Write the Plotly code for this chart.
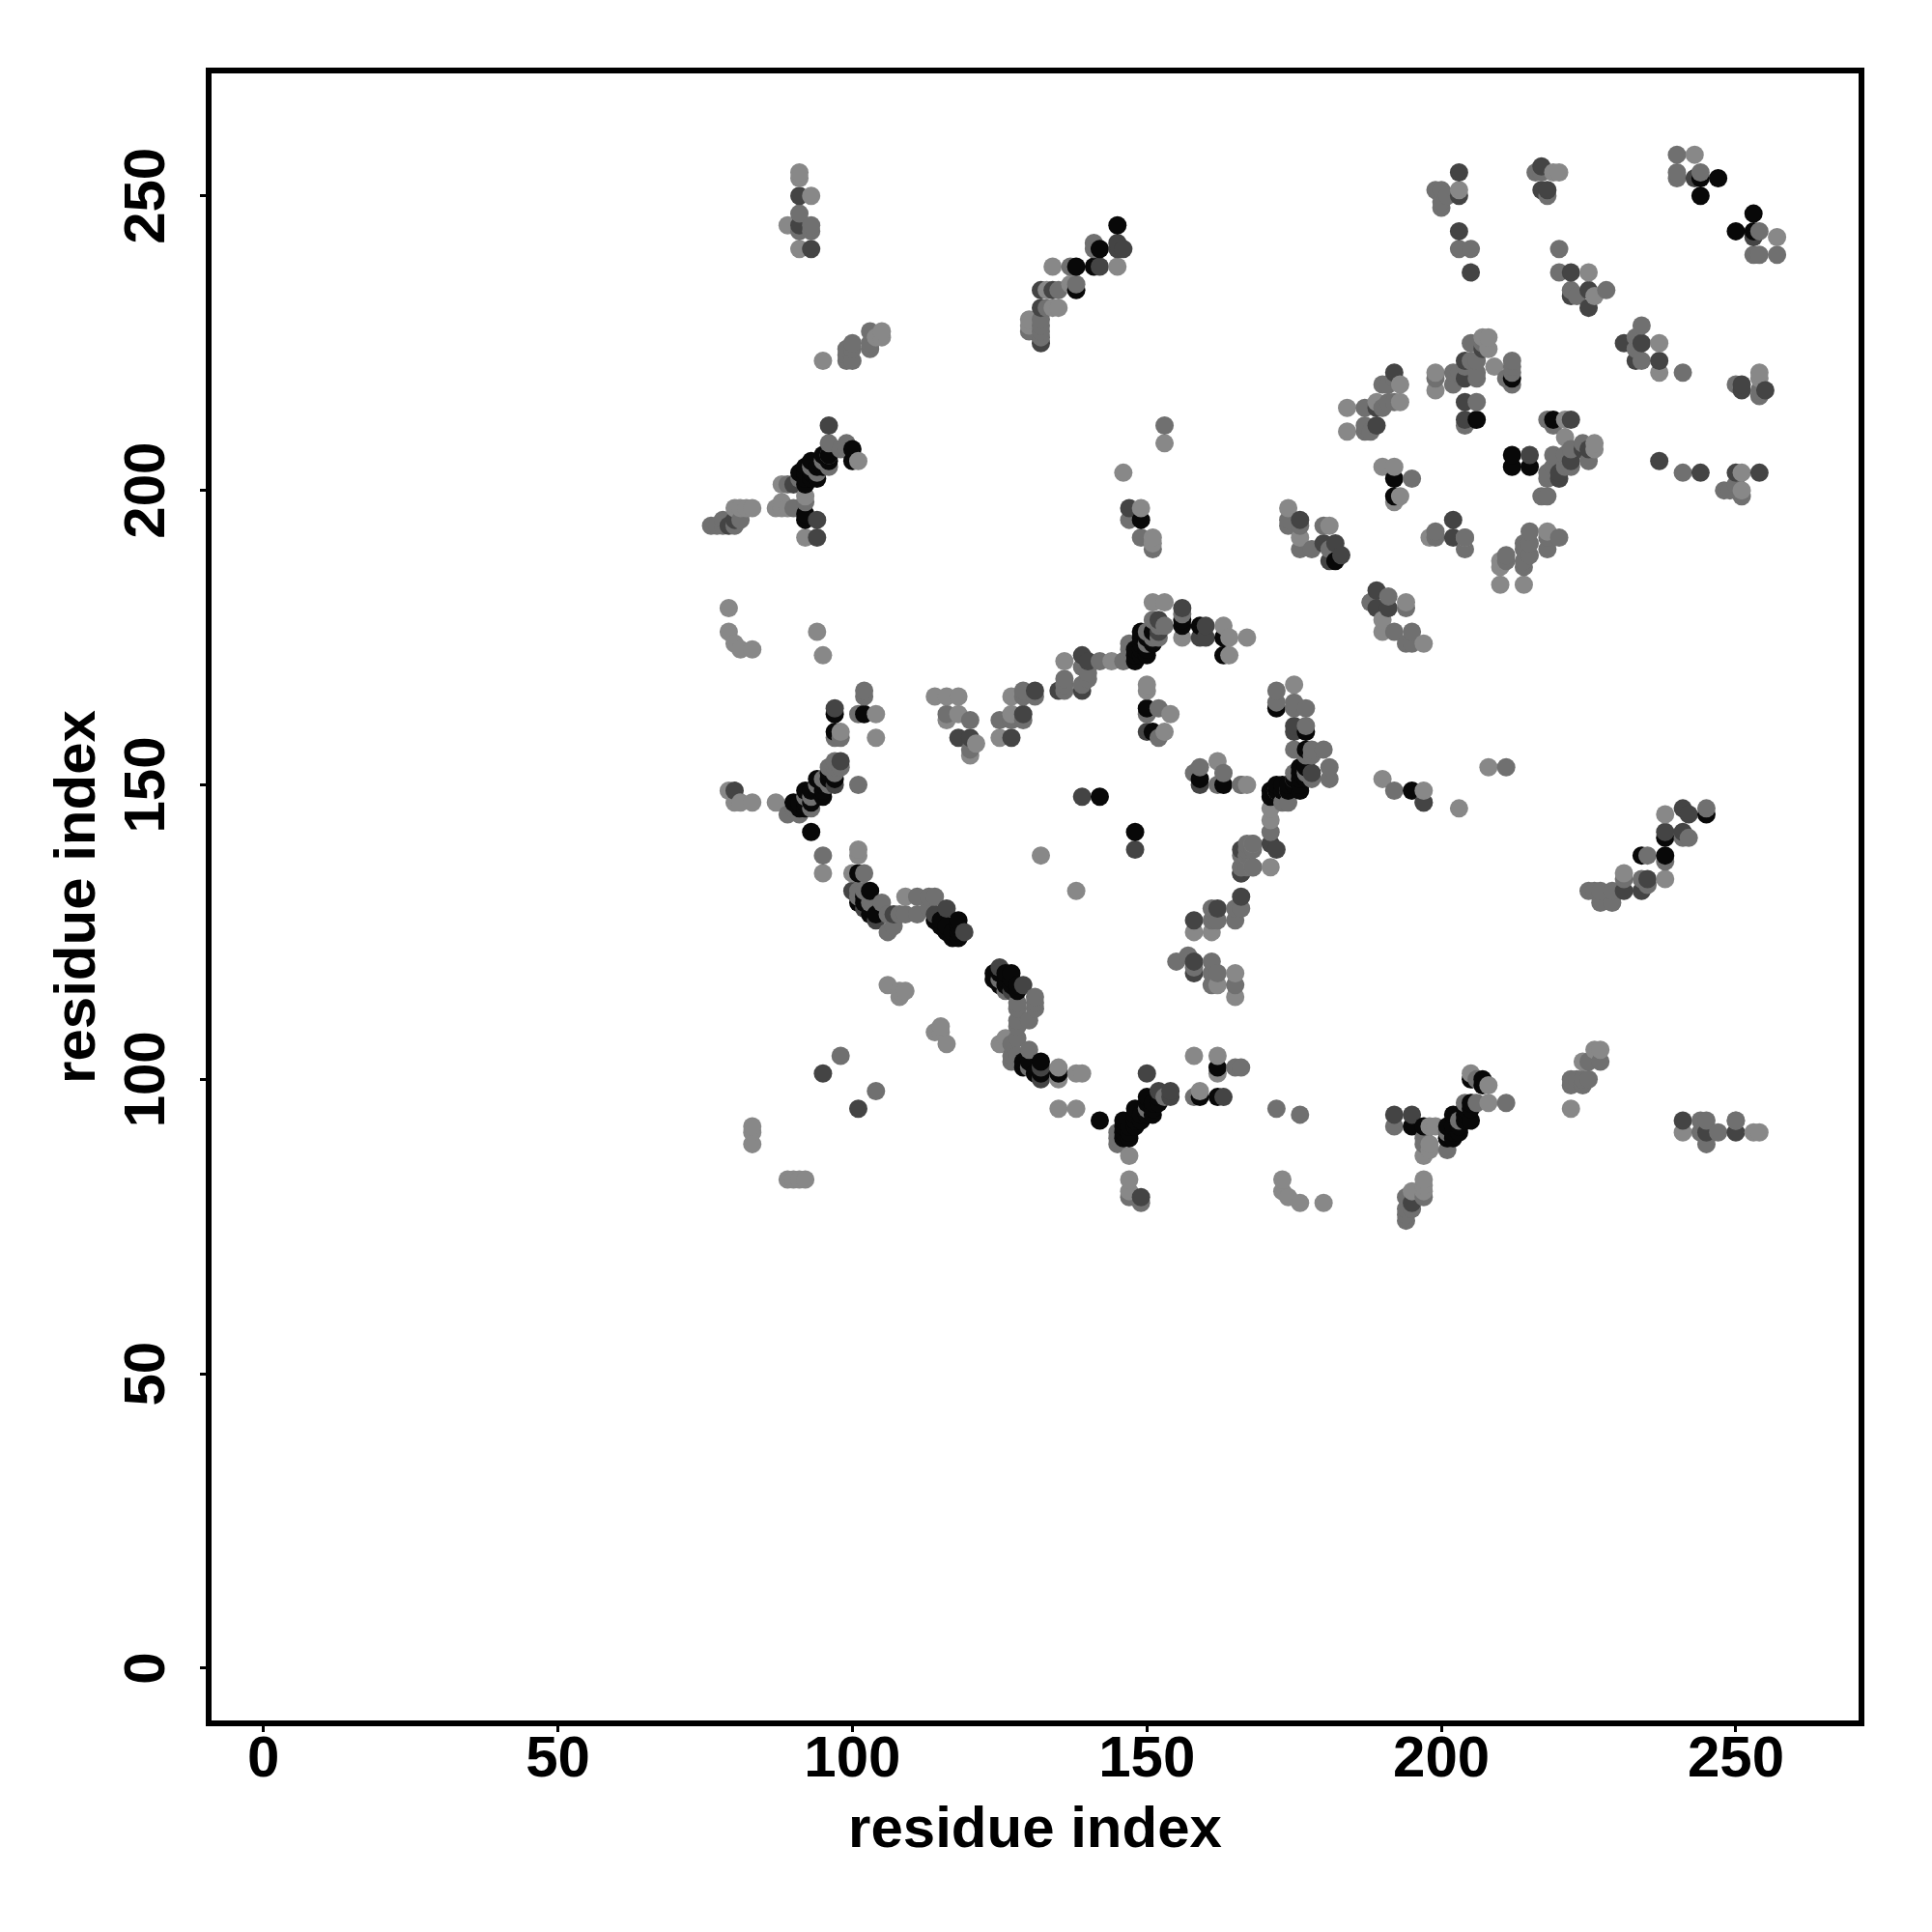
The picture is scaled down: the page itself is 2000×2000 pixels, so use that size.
import numpy as np
import plotly.graph_objects as go

tick_values = [0, 50, 100, 150, 200, 250]
axis_label = "residue index"

black_contacts = [
(145,245),(142,241),(138,238),(141,238),(138,234),(100,207),(100,205),(96,205),(93,205),(91,203),(92,202),(94,202),(92,201),(92,196),(92,195),(149,195),
(244,253),(247,253),(244,250),(253,247),(250,244),(253,244),(212,219),(206,212),(192,202),(192,199),(212,206),(212,204),(215,204),(219,212),(182,188),
(156,178),(156,177),(149,176),(149,174),(149,172),(148,171),(150,172),(148,173),(159,177),(163,175),(163,172),(102,162),(97,162),(97,159),(94,151),(95,148),(92,149),(90,147),(92,146),(93,142),
(101,135),(103,132),(115,126),(118,127),(117,124),(118,124),(116,125),(142,148),(148,142),(159,151),(163,150),(150,163),(151,159),
(124,118),(127,118),(124,117),(126,116),(129,102),(132,103),(135,101),(142,93),(146,93),(146,91),(147,90),(148,95),(148,92),(150,97),(151,94),(159,97),(162,97),(162,102),
(195,92),(197,92),(201,92),(202,94),(202,91),(203,91),(205,96),(205,93),(205,100),(207,100),(207,99),
(172,163),(177,159),(177,156),(176,152),(175,151),(172,150),(174,150),(176,149),(171,148),(195,149),(245,145),(238,141),(234,138),(238,138),
(91,146),(91,147),(92,147),(93,147),(93,149),(94,149),(95,150),(95,149),(96,151),(96,152),(97,151),
(171,149),(172,149),(173,149),(173,150),(174,149),(175,150),(176,150),(176,151),(177,151),(177,153),(176,153),
(146,92),(147,92),(147,91),(148,93),(148,94),(149,93),(149,94),(150,94),(150,96),(151,95),(151,96),(152,96),(152,97),(146,90),
(201,90),(202,90),(202,92),(203,92),(204,93),(204,94),(204,95),(205,95),
(101,130),(102,130),(102,131),(103,129),(103,128),(104,128),
(114,127),(115,127),(116,126),(117,125),(118,126),(118,125),
(125,116),(125,118),(126,117),(126,118),(127,116),(127,117),(128,116),(128,115),
(92,203),(93,203),(93,202),(92,204),(94,204),(95,204),(95,206),(96,206),
(150,173),(150,175),(151,176),(151,174),(149,173),(149,175),(148,172),
(129,103),(130,103),(131,101),(132,101),
]
dark_contacts = [
(91,250),(91,245),(93,241),(146,241),(145,242),(145,241),(142,238),(134,234),(132,234),(132,231),(132,225),(96,211),(90,201),(94,195),(94,192),(80,195),(79,194),(147,197),
(203,254),(203,250),(217,255),(217,251),(218,251),(243,253),(253,243),(203,244),(205,237),(222,237),(222,233),(225,234),(225,231),(234,225),(231,225),(233,222),(237,222),
(251,218),(251,217),(255,217),(207,224),(204,222),(204,219),(204,215),(204,212),(192,220),(189,214),(189,211),(215,206),(222,212),(225,207),(224,207),(222,205),(220,203),(220,202),(237,205),(244,203),(250,203),(254,203),
(176,195),(180,191),(182,191),(183,189),(181,188),(202,195),(202,192),
(156,180),(152,178),(152,176),(160,177),(159,175),(160,175),(140,171),(139,172),(139,166),(135,166),(131,166),(129,162),(127,158),(118,158),(120,158),(97,163),(98,154),(97,150),(80,149),
(100,132),(102,129),(104,127),(107,128),(114,128),(116,129),(119,125),(139,148),(148,139),(159,150),(150,159),(166,139),(166,135),(166,131),(162,129),(158,127),(158,120),(158,118),
(125,119),(129,116),(127,115),(132,102),(132,100),(95,101),(101,95),(150,101),(152,98),(154,98),(154,97),(149,80),(163,97),(192,94),(195,94),(201,90),(195,79),(241,93),(245,91),(250,91),
(189,183),(189,180),(191,180),(175,160),(175,159),(178,152),(171,140),(172,139),(166,135),(197,147),(241,146),(242,145),(238,142),(241,142),(235,134),(234,132),(231,132),
]
mid_contacts = [
(91,247),(93,245),(93,244),(91,244),(141,242),(141,241),(137,238),(138,235),(135,234),(133,231),(132,229),(132,228),(132,227),(132,226),(130,227),(99,224),(100,225),(100,224),(99,223),(103,227),(103,224),(103,225),(99,222),(100,222),
(96,208),(99,208),(99,207),(98,207),(95,205),(96,206),(94,203),(96,204),(93,204),(91,202),(92,201),(89,201),(92,198),(90,197),(81,195),(80,194),(78,195),(78,194),(77,194),(76,194),(153,211),(147,195),(149,192),(151,190),
(199,251),(200,251),(201,250),(200,249),(200,248),(216,254),(217,254),(218,250),(244,254),(240,257),(240,254),(240,253),(254,244),(253,240),(254,240),(257,240),
(203,241),(205,241),(220,241),(220,237),(222,234),(223,233),(228,234),(234,228),(233,226),(233,224),(234,222),(250,218),(254,217),(254,216),(241,220),
(207,225),(205,225),(205,222),(206,222),(204,221),(202,220),(203,220),(206,219),(199,219),(202,218),(206,220),(212,222),(212,221),(212,220),(211,219),(212,218),(206,215),(204,211),
(190,218),(191,218),(192,219),(191,215),(192,215),(187,214),(190,214),(187,211),(187,210),(188,210),(195,202),
(218,212),(219,211),(224,208),(222,207),(219,206),(221,206),(225,205),(219,204),(218,203),(218,202),(221,204),(222,204),(217,199),(218,199),
(241,203),(248,200),(249,200),(250,201),(251,199),(174,195),(174,194),(176,194),(176,190),(178,190),(180,194),(181,190),(199,193),(199,192),(204,192),(204,190),
(215,193),(218,192),(220,192),(214,191),(215,191),(218,190),(214,190),(215,189),(211,189),(211,188),(214,188),(214,187),
(156,179),(151,178),(152,177),(153,177),(152,175),(150,176),(150,174),(147,174),(147,173),(151,175),(146,171),(142,171),(139,170),(136,168),(140,169),(140,168),(139,167),(136,167),(136,166),
(129,166),(131,165),(129,165),(127,161),(129,161),(125,161),(116,162),(120,161),(120,156),(102,166),(102,165),(101,162),(97,158),(98,158),(97,154),(97,153),(98,153),(97,152),(96,153),(101,150),(95,151),(94,150),(96,150),(92,148),(93,148),(90,146),(93,146),(91,145),(89,145),(166,150),
(95,138),(102,135),(101,132),(102,132),(101,131),(103,130),(105,130),(106,128),(108,128),(109,128),(111,128),(113,129),(113,131),(114,131),(111,131),(106,125),(107,126),
(159,153),(158,152),(163,152),(162,150),(152,163),(150,162),(152,158),(166,138),(167,138),(166,136),(168,136),(165,129),(166,129),(161,129),(161,127),(162,127),(165,127),
(155,120),(157,121),(158,119),(161,120),(161,118),(162,118),(161,116),(165,116),
(125,117),(126,115),(131,114),(131,113),(128,113),(131,112),(128,112),(128,110),(130,110),(128,109),(128,107),(130,105),(127,106),(127,104),(128,104),(127,103),(130,102),
(98,104),(104,98),(145,91),(145,90),(145,89),(150,95),(153,97),(149,79),(147,80),(158,97),(166,102),(165,102),
(172,95),(176,94),(197,90),(197,89),(201,91),(201,88),(203,93),(204,96),(206,96),(211,96),(206,100),(222,100),(222,99),(223,100),(224,100),(225,100),(224,99),(225,103),(227,103),(194,80),(194,78),(195,78),(194,77),(194,76),(197,80),(192,92),
(244,93),(245,93),(244,91),(245,89),(247,91),(250,93),
(188,181),(191,182),(194,180),(192,176),(195,176),(194,174),(195,174),
(172,166),(172,164),(175,164),(175,163),(177,163),(177,160),(175,156),(178,156),(180,156),(177,155),(178,155),(181,153),(181,151),(177,152),(175,152),(178,151),(175,151),(172,149),(174,149),(174,147),(173,147),
(171,142),(168,140),(167,140),(167,139),(168,139),(166,136),(167,136),(168,136),(192,149),(197,147),(211,153),
(245,146),(241,141),(242,141),(235,138),(238,137),(231,134),(234,134),(235,133),(225,132),(226,132),(227,132),(229,132),(227,130),(229,130),
]
light_contacts = [
(91,254),(91,253),(93,250),(89,245),(91,241),(134,238),(145,238),(137,235),(133,234),(134,231),(135,231),(130,229),(130,228),(95,222),(105,227),(104,226),(105,226),
(101,205),(88,201),(92,199),(87,197),(88,197),(88,198),(89,197),(92,192),(82,197),(83,197),(80,197),(81,197),(146,203),(153,208),(149,197),(151,192),(151,191),
(203,251),(219,254),(220,254),(243,257),(257,243),(225,237),(226,233),(237,225),(237,220),(254,220),(254,219),
(208,226),(207,226),(208,224),(209,221),(199,220),(199,217),(190,204),(192,204),(193,199),(192,198),(193,218),(193,215),(189,215),(184,214),(184,210),
(221,212),(221,209),(226,208),(226,207),(251,203),(251,200),(174,197),(176,192),(181,194),(198,192),(204,192),(218,193),(210,188),(210,187),(210,184),(214,184),
(151,181),(153,181),(156,175),(163,177),(164,175),(167,175),(144,171),(136,171),(127,165),(127,162),(125,158),(118,165),(116,165),(114,165),(116,161),(118,162),(121,157),(120,155),
(79,180),(79,176),(80,174),(81,173),(83,173),(94,176),(95,172),(104,162),(104,158),(98,159),(87,147),(79,149),(80,147),(81,147),(83,147),
(95,135),(101,139),(101,138),(100,135),(109,131),(132,138),(138,132),(162,154),(166,150),(167,150),(150,167),(150,166),(154,162),(153,159),(168,140),(167,138),(168,136),(164,172),(158,125),(161,125),
(165,118),(165,114),(162,116),(106,116),(108,115),(109,115),(108,114),(115,109),(114,108),(115,108),(116,106),(125,106),(126,107),
(83,92),(83,91),(83,89),(89,83),(90,83),(91,83),(92,83),(135,102),(135,100),(138,101),(139,101),(135,95),(138,95),(147,87),(147,83),(147,81),(158,104),(162,104),(159,98),(162,101),
(173,83),(173,81),(174,80),(176,79),(180,79),(198,92),(199,92),(197,87),(198,89),(198,88),(208,96),(208,99),(205,101),(222,95),(224,103),(226,105),(227,105),
(197,83),(197,82),(197,81),(195,81),(241,91),(250,93),(253,91),(254,91),
(188,181),(194,181),(190,178),(190,176),(197,174),(175,167),(190,151),(197,149),(203,146),(208,153),(238,145),(238,134),(231,135),(171,146),(171,144),(171,136),
]

levels = [136, 112, 68, 8]
groups = [light_contacts, mid_contacts, dark_contacts, black_contacts]
xs, ys, gs = [], [], []
for g, lev in zip(groups, levels):
    for a, b in g:
        xs.append(a); ys.append(b); gs.append(lev)
xs, ys, gs = np.array(xs), np.array(ys), np.array(gs)
order = np.lexsort((ys, xs))
colors = [f"rgb({v},{v},{v})" for v in gs[order]]

fig = go.Figure(go.Scatter(x=xs[order], y=ys[order], mode="markers",
    marker=dict(size=19, color=colors, line=dict(width=0)), showlegend=False))

font = dict(family="Liberation Sans", size=60, color="black", weight="bold")
axis = dict(tickmode="array", tickvals=tick_values, ticktext=[str(v) for v in tick_values],
    ticks="outside", ticklen=6, tickwidth=3, tickcolor="black",
    showline=True, linewidth=6, linecolor="black", mirror=True,
    showgrid=False, zeroline=False, tickfont=font)
fig.update_layout(width=2000, height=2000, paper_bgcolor="white", plot_bgcolor="white",
    margin=dict(l=211.3, r=83.7, t=67.7, b=227.3, autoexpand=False),
    xaxis=dict(axis, range=[-8.81, 270.84], ticklabelstandoff=-26,
               title=dict(text=axis_label, font=font, standoff=21)),
    yaxis=dict(axis, range=[-8.86, 270.8], tickangle=-90, ticklabelstandoff=13, ticklabelshift=9,
               title=dict(text=axis_label, font=font, standoff=0)))
fig.write_html("out.html")
